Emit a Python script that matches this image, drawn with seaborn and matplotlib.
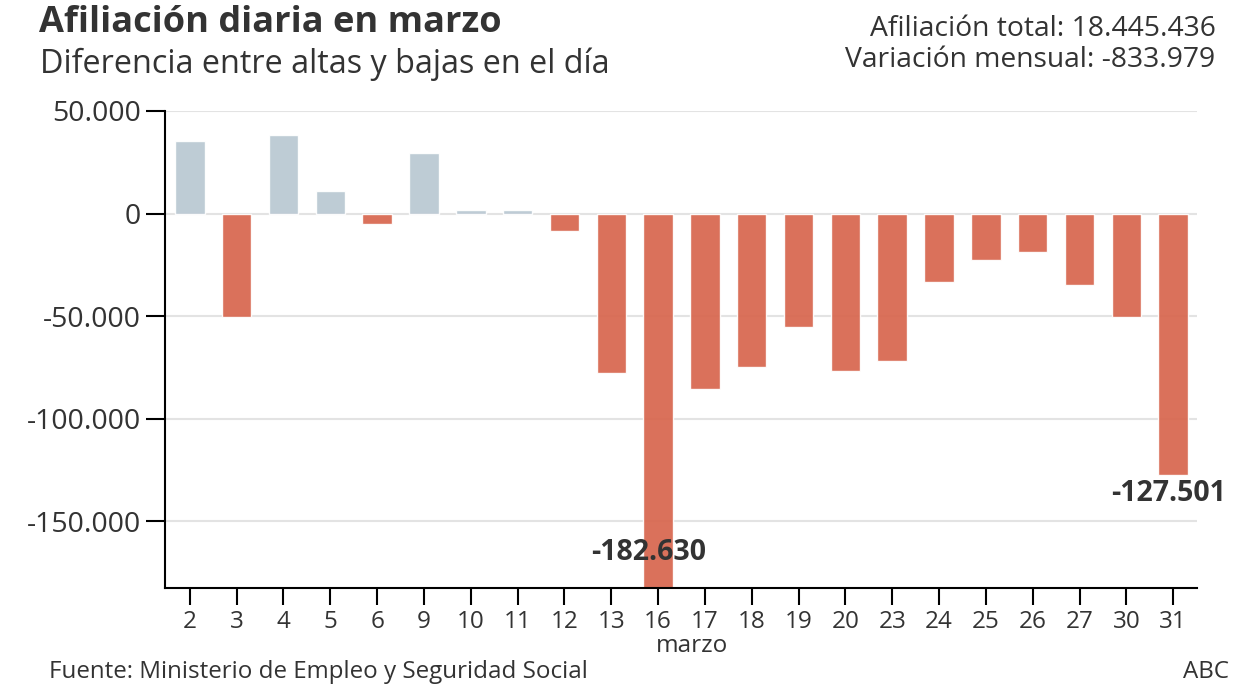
import pandas as pd
import seaborn as sns
import matplotlib.pyplot as plt

dias = ["2", "3", "4", "5", "6", "9", "10", "11", "12", "13", "16",
        "17", "18", "19", "20", "23", "24", "25", "26", "27", "30", "31"]
diferencia = [35500, -50500, 38500, 11200, -5300, 29700, 1500, 1500, -8300,
              -77700, -182630, -85400, -74800, -55300, -76700, -71800,
              -33500, -22800, -18900, -35000, -50500, -127501]

POS_COLOR = "#b9c8d2"
NEG_COLOR = "#d8664e"
TEXT = "#333333"


def main():
    df = pd.DataFrame({"dia": dias, "valor": diferencia})
    df["signo"] = ["pos" if v >= 0 else "neg" for v in df["valor"]]

    sns.set_theme(style="white")
    plt.rcParams["font.family"] = ["Open Sans", "DejaVu Sans"]

    fig = plt.figure(figsize=(12.48, 6.98), dpi=100)
    ax = fig.add_axes([0.1322, 0.1576, 0.827, 0.6834])

    ax.yaxis.grid(True, color="#e3e3e3", linewidth=1.5, zorder=0)
    ax.set_axisbelow(True)

    sns.barplot(
        data=df, x="dia", y="valor", hue="signo",
        palette={"pos": POS_COLOR, "neg": NEG_COLOR},
        width=0.63, dodge=False, legend=False, alpha=0.93,
        saturation=1, ax=ax,
    )

    ax.set_ylim(-182630, 50000)
    ax.set_xlim(-0.53, 21.51)
    ax.set_yticks([50000, 0, -50000, -100000, -150000])
    ax.set_yticklabels(["50.000", "0", "-50.000", "-100.000", "-150.000"])

    for side in ["top", "right"]:
        ax.spines[side].set_visible(False)
    for side in ["left", "bottom"]:
        ax.spines[side].set_color("black")
        ax.spines[side].set_linewidth(1.5)

    ax.tick_params(axis="y", length=14, width=1.5, color="black",
                   labelsize=20.5, labelcolor=TEXT, pad=3, left=True)
    ax.tick_params(axis="x", length=12, width=1.5, color="black",
                   labelsize=17.5, labelcolor=TEXT, pad=4, bottom=True)

    ax.set_xlabel("marzo", fontsize=17.5, color=TEXT, va="center")
    ax.xaxis.set_label_coords(0.5107, -0.121)
    ax.set_ylabel("")

    # etiquetas de los valores destacados
    i16 = dias.index("16")
    ax.text(i16 - 0.2, -165500, "-182.630", ha="center", va="center",
            fontsize=20.5, fontweight="bold", color=TEXT)
    i31 = dias.index("31")
    ax.text(i31 - 0.1, -136500, "-127.501", ha="center", va="center",
            fontsize=20.5, fontweight="bold", color=TEXT)

    fig.text(0.031, 0.967, "Afiliación diaria en marzo", ha="left", va="center",
             fontsize=26, fontweight="bold", color=TEXT)
    fig.text(0.032, 0.908, "Diferencia entre altas y bajas en el día",
             ha="left", va="center", fontsize=23.3, color=TEXT)
    fig.text(0.974, 0.959, "Afiliación total: 18.445.436", ha="right",
             va="center", fontsize=20.3, color=TEXT)
    fig.text(0.974, 0.914, "Variación mensual: -833.979", ha="right",
             va="center", fontsize=20.3, color=TEXT)
    fig.text(0.039, 0.037, "Fuente: Ministerio de Empleo y Seguridad Social",
             ha="left", va="center", fontsize=17.4, color=TEXT)
    fig.text(0.985, 0.037, "ABC", ha="right", va="center",
             fontsize=17.4, color=TEXT)

    fig.savefig("out.png", dpi=100)


main()
